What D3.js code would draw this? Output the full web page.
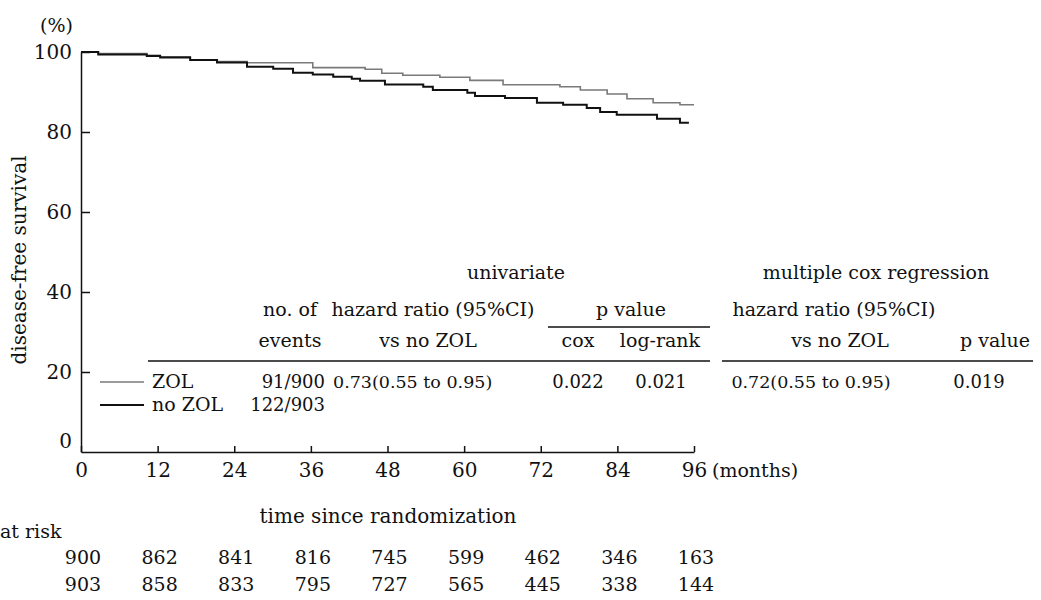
<!DOCTYPE html>
<html lang="en">
<head>
<meta charset="UTF-8">
<title>disease-free survival</title>
<style>
    body { margin: 0; background: #fff; }
    svg text { font-family: 'DejaVu Serif', 'Liberation Serif', serif; fill: #111; }
    .ax text { font-size: 20px; }
    .ax path, .ax line { stroke: #111; stroke-width: 1.5; }
</style>
<script src="https://d3js.org/d3.v7.min.js"></script>
</head>
<body>
<svg id="chart" width="1041" height="600"></svg>
<script>
    // survival curves (step points)
    const zolMonths = [0, 2.7, 10.3, 12.4, 17.1, 21.3, 26.0, 36.3, 44.5, 47.1, 50.4, 56.2, 60.9, 66.1, 75.0, 78.2, 82.4, 85.5, 89.6, 93.8, 96];
    const zolSurv = [100, 99.6, 99.2, 98.8, 98.0, 97.6, 97.3, 96.1, 95.7, 94.7, 94.2, 93.7, 92.9, 91.8, 91.3, 90.5, 89.5, 88.3, 87.3, 86.8, 86.8];
    const noZolMonths = [0, 2.7, 10.3, 12.4, 17.1, 21.3, 26.0, 30.1, 33.2, 36.3, 39.5, 42.4, 43.7, 47.6, 53.6, 55.1, 60.5, 61.7, 66.4, 71.4, 75.5, 79.2, 81.3, 83.9, 90.2, 93.8, 95.2];
    const noZolSurv = [100, 99.4, 99.0, 98.6, 98.0, 97.4, 96.3, 95.8, 94.8, 94.4, 93.8, 93.3, 92.8, 91.9, 91.3, 90.5, 89.8, 89.0, 88.5, 87.3, 86.8, 86.0, 85.0, 84.3, 83.3, 82.3, 82.3];

    const xTicks = [0, 12, 24, 36, 48, 60, 72, 84, 96];
    const yTicks = [0, 20, 40, 60, 80, 100];

    // numbers at risk
    const atRiskZol = [900, 862, 841, 816, 745, 599, 462, 346, 163];
    const atRiskNoZol = [903, 858, 833, 795, 727, 565, 445, 338, 144];

    // table
    const groups = ["ZOL", "no ZOL"];
    const events = ["91/900", "122/903"];
    const uniHR = "0.73(0.55 to 0.95)";
    const coxP = "0.022";
    const logRankP = "0.021";
    const multiHR = "0.72(0.55 to 0.95)";
    const multiP = "0.019";

    const svg = d3.select("#chart");
    const x = d3.scaleLinear().domain([0, 96]).range([81, 694]);
    const y = d3.scaleLinear().domain([0, 100]).range([452, 52]);

    // axes, ticks pointing inward
    svg.append("g").attr("class", "ax")
        .attr("transform", "translate(81,0)")
        .call(d3.axisLeft(y).tickValues(yTicks.slice(1)).tickSizeInner(-9).tickSizeOuter(0).tickPadding(9));
    svg.append("text").attr("x", 72).attr("y", y(0) - 4).attr("text-anchor", "end")
        .attr("font-size", 20).text("0");

    svg.append("g").attr("class", "ax")
        .attr("transform", "translate(0,452)")
        .call(d3.axisBottom(x).tickValues(xTicks).tickSizeInner(-6).tickSizeOuter(0).tickPadding(11));

    svg.append("text").attr("x", 712).attr("y", 477).attr("font-size", 19).text("(months)");
    svg.append("text").attr("x", 40).attr("y", 32).attr("font-size", 19).text("(%)");
    svg.append("text")
        .attr("transform", "translate(26,260) rotate(-90)")
        .attr("text-anchor", "middle").attr("font-size", 20)
        .text("disease-free survival");
    svg.append("text").attr("x", 388).attr("y", 523).attr("text-anchor", "middle")
        .attr("font-size", 20).text("time since randomization");

    // curves
    const line = d3.line().curve(d3.curveStepAfter).x(d => x(d[0])).y(d => y(d[1]));
    svg.append("path").datum(d3.zip(zolMonths, zolSurv))
        .attr("d", line).attr("fill", "none").attr("stroke", "#7a7a7a").attr("stroke-width", 1.6);
    svg.append("path").datum(d3.zip(noZolMonths, noZolSurv))
        .attr("d", line).attr("fill", "none").attr("stroke", "#111").attr("stroke-width", 2);

    // at risk
    svg.append("text").attr("x", 0).attr("y", 538).attr("font-size", 19).text("at risk");
    [atRiskZol, atRiskNoZol].forEach(function (row, i) {
        svg.selectAll(null).data(row).enter().append("text")
            .attr("x", (d, j) => x(xTicks[j]) + 2)
            .attr("y", 564 + i * 27)
            .attr("text-anchor", "middle")
            .attr("font-size", 19)
            .text(d => d);
    });

    // table
    function txt(tx, ty, s, anchor, size) {
        svg.append("text").attr("x", tx).attr("y", ty)
            .attr("text-anchor", anchor || "middle")
            .attr("font-size", size || 19)
            .text(s);
    }
    function hline(x1, x2, ly) {
        svg.append("line").attr("x1", x1).attr("x2", x2).attr("y1", ly).attr("y2", ly)
            .attr("stroke", "#111").attr("stroke-width", 1.3);
    }

    txt(516, 279, "univariate");
    txt(876, 279, "multiple cox regression");

    txt(290, 316, "no. of");
    txt(433, 316, "hazard ratio (95%CI)");
    txt(631, 316, "p value");
    txt(834, 316, "hazard ratio (95%CI)");
    hline(548, 710, 327);

    txt(290, 347, "events");
    txt(428, 347, "vs no ZOL");
    txt(578, 347, "cox");
    txt(660, 347, "log-rank");
    txt(840, 347, "vs no ZOL");
    txt(995, 347, "p value");
    hline(148, 710, 361);
    hline(722, 1033, 361);

    const rowY = [388, 411];
    const legendColor = ["#7a7a7a", "#111"];
    groups.forEach(function (g, i) {
        svg.append("line").attr("x1", 100).attr("x2", 144)
            .attr("y1", rowY[i] - 6).attr("y2", rowY[i] - 6)
            .attr("stroke", legendColor[i]).attr("stroke-width", i ? 2 : 1.6);
        txt(152, rowY[i], g, "start");
        txt(325, rowY[i], events[i], "end", 18);
    });
    txt(333, rowY[0], uniHR, "start", 17.5);
    txt(578, rowY[0], coxP, "middle", 18);
    txt(661, rowY[0], logRankP, "middle", 18);
    txt(811, rowY[0], multiHR, "middle", 17.5);
    txt(979, rowY[0], multiP, "middle", 18);
</script>
</body>
</html>
